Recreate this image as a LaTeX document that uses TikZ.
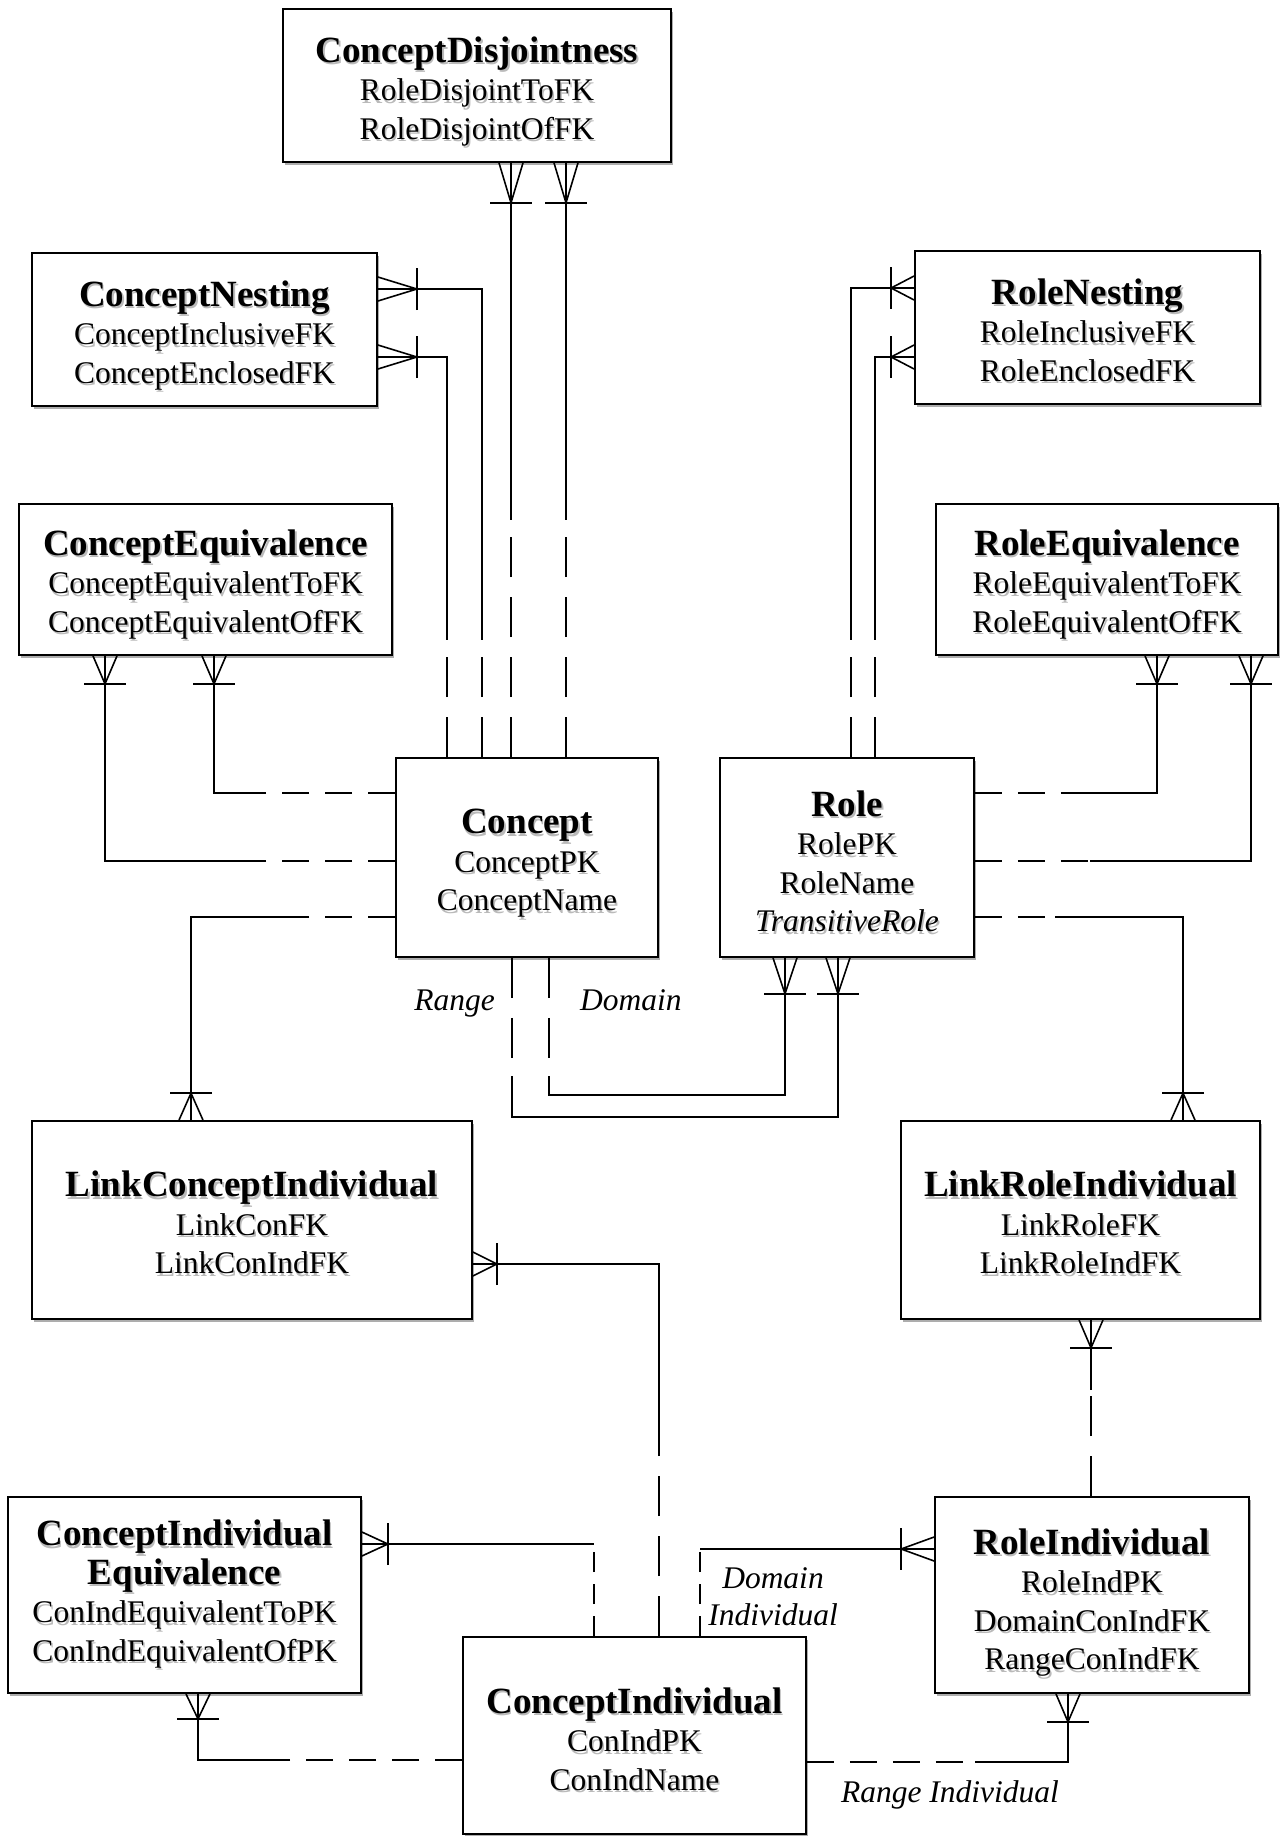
\documentclass[tikz,border=0pt]{standalone}
\usepackage{fontspec}
\setmainfont{Liberation Serif}
\usetikzlibrary{calc,shadows}
\newcommand\shl[1]{\leavevmode\rlap{\kern1.5pt\raisebox{-2.5pt}{\textcolor{black!27}{#1}}}#1}
\newcommand\ttl[1]{{\fontsize{37}{38.5}\selectfont\bfseries\shl{#1}}}
\newcommand\crowft[4]{%
  \draw[conn] ($(#1)+({-12*(#3)},{12*(#2)})$) -- ($(#1)+({#4*(#2)},{#4*(#3)})$) -- ($(#1)+({12*(#3)},{-12*(#2)})$);
  \draw[conn] ($(#1)+({#4*(#2)-21*(#3)},{#4*(#3)+21*(#2)})$) -- ($(#1)+({#4*(#2)+21*(#3)},{#4*(#3)-21*(#2)})$);
}
\begin{document}
\begin{tikzpicture}[x=1pt,y=-1pt,
  ent/.style={draw, line width=1.8pt, fill=white, inner sep=0pt,
    drop shadow={shadow xshift=1.5pt, shadow yshift=-3pt, fill=black!40, opacity=0.8}},
  txt/.style={align=center, inner sep=0pt, font=\fontsize{31.5}{38.5}\selectfont},
  conn/.style={line width=1.6pt},
  dashv/.style={dash pattern=on 40pt off 20pt},
  dashh/.style={dash pattern=on 27pt off 16pt},
  dashs/.style={dash pattern=on 20pt off 12pt},
  lbl/.style={font=\fontsize{31.5}{37}\selectfont\itshape, inner sep=0pt, align=center}]
\useasboundingbox[fill=white] (0,0) rectangle (1280,1836);

% entity boxes
\node[ent, minimum width=388pt, minimum height=153pt] (cdis) at (477,85.5) {};
\node[ent, minimum width=345pt, minimum height=153pt] (cnest) at (204.5,329.5) {};
\node[ent, minimum width=345pt, minimum height=153pt] (rnest) at (1087.5,327.5) {};
\node[ent, minimum width=373pt, minimum height=151pt] (ceq) at (205.5,579.5) {};
\node[ent, minimum width=342pt, minimum height=151pt] (req) at (1107,579.5) {};
\node[ent, minimum width=262pt, minimum height=199pt] (concept) at (527,857.5) {};
\node[ent, minimum width=254pt, minimum height=199pt] (role) at (847,857.5) {};
\node[ent, minimum width=440pt, minimum height=198pt] (lci) at (252,1220) {};
\node[ent, minimum width=359pt, minimum height=198pt] (lri) at (1080.5,1220) {};
\node[ent, minimum width=353pt, minimum height=196pt] (cie) at (184.5,1595) {};
\node[ent, minimum width=343pt, minimum height=197pt] (ci) at (634.5,1735.5) {};
\node[ent, minimum width=314pt, minimum height=196pt] (ri) at (1092,1595) {};

% entity texts
\node[txt] (cdis-t) at ($(cdis.center)+(0,7)$) {\ttl{ConceptDisjointness}\\\shl{RoleDisjointToFK}\\\shl{RoleDisjointOfFK}};
\node[txt] (cnest-t) at ($(cnest.center)+(0,7)$) {\ttl{ConceptNesting}\\\shl{ConceptInclusiveFK}\\\shl{ConceptEnclosedFK}};
\node[txt] (rnest-t) at ($(rnest.center)+(0,4)$) {\ttl{RoleNesting}\\\shl{RoleInclusiveFK}\\\shl{RoleEnclosedFK}};
\node[txt] (ceq-t) at ($(ceq.center)+(0,6)$) {\ttl{ConceptEquivalence}\\\shl{ConceptEquivalentToFK}\\\shl{ConceptEquivalentOfFK}};
\node[txt] (req-t) at ($(req.center)+(0,6)$) {\ttl{RoleEquivalence}\\\shl{RoleEquivalentToFK}\\\shl{RoleEquivalentOfFK}};
\node[txt] (concept-t) at ($(concept.center)+(0,7)$) {\ttl{Concept}\\\shl{ConceptPK}\\\shl{ConceptName}};
\node[txt] (role-t) at ($(role.center)+(0,5)$) {\ttl{Role}\\\shl{RolePK}\\\shl{RoleName}\\\shl{\itshape TransitiveRole}};
\node[txt] (lci-t) at ($(lci.center)+(0,4)$) {\ttl{LinkConceptIndividual}\\\shl{LinkConFK}\\\shl{LinkConIndFK}};
\node[txt] (lri-t) at ($(lri.center)+(0,4)$) {\ttl{LinkRoleIndividual}\\\shl{LinkRoleFK}\\\shl{LinkRoleIndFK}};
\node[txt] (cie-t) at ($(cie.center)+(0,0)$) {\ttl{ConceptIndividual}\\\ttl{Equivalence}\\\shl{ConIndEquivalentToPK}\\\shl{ConIndEquivalentOfPK}};
\node[txt] (ci-t) at ($(ci.center)+(0,5)$) {\ttl{ConceptIndividual}\\\shl{ConIndPK}\\\shl{ConIndName}};
\node[txt] (ri-t) at ($(ri.center)+(0,9)$) {\ttl{RoleIndividual}\\\shl{RoleIndPK}\\\shl{DomainConIndFK}\\\shl{RangeConIndFK}};

% guide / bend coordinates
\coordinate (b1) at (511,520);
\coordinate (b2) at (566,520);
\coordinate (k3) at (482,289);  \coordinate (b3) at (482,640);
\coordinate (k4) at (447,357);  \coordinate (b4) at (447,640);
\coordinate (k5) at (851,288);  \coordinate (b5) at (851,640);
\coordinate (k6) at (875,357);  \coordinate (b6) at (875,640);
\coordinate (k7) at (214,793);  \coordinate (b7) at (265,793);
\coordinate (k8) at (105,861);  \coordinate (b8) at (253,861);
\coordinate (k9) at (1157,793); \coordinate (b9) at (1080,793);
\coordinate (k10) at (1251,861); \coordinate (b10) at (1090,861);
\coordinate (k11) at (191,917); \coordinate (b11) at (295,917);
\coordinate (k12) at (1183,917); \coordinate (b12) at (1055,917);
\coordinate (k13a) at (785,1095); \coordinate (k13b) at (549,1095); \coordinate (b13) at (549,1076);
\coordinate (k14a) at (838,1117); \coordinate (k14b) at (512,1117); \coordinate (b14) at (512,1076);
\coordinate (k15) at (659,1264); \coordinate (b15) at (659,1440);
\coordinate (k16) at (594,1544);
\coordinate (k17) at (198,1760); \coordinate (b17) at (282,1760);
\coordinate (k18) at (700,1549);
\coordinate (k19) at (1068,1762); \coordinate (b19) at (975,1762);
\coordinate (b20) at (1091,1390);

% ConceptDisjointness -- Concept
\draw[conn] (cdis.south -| b1) -- (b1);
\draw[conn,dashv] (concept.north -| b1) -- (b1);
\crowft{cdis.south -| b1}{0}{1}{40}
\draw[conn] (cdis.south -| b2) -- (b2);
\draw[conn,dashv] (concept.north -| b2) -- (b2);
\crowft{cdis.south -| b2}{0}{1}{40}

% ConceptNesting -- Concept
\draw[conn] (cnest.east |- k3) -- (k3) -- (b3);
\draw[conn,dashv] (concept.north -| b3) -- (b3);
\crowft{cnest.east |- k3}{1}{0}{39}
\draw[conn] (cnest.east |- k4) -- (k4) -- (b4);
\draw[conn,dashv] (concept.north -| b4) -- (b4);
\crowft{cnest.east |- k4}{1}{0}{39}

% RoleNesting -- Role
\draw[conn] (rnest.west |- k5) -- (k5) -- (b5);
\draw[conn,dashv] (role.north -| b5) -- (b5);
\crowft{rnest.west |- k5}{-1}{0}{23}
\draw[conn] (rnest.west |- k6) -- (k6) -- (b6);
\draw[conn,dashv] (role.north -| b6) -- (b6);
\crowft{rnest.west |- k6}{-1}{0}{23}

% ConceptEquivalence -- Concept
\draw[conn] (ceq.south -| k7) -- (k7) -- (b7);
\draw[conn,dashh] (concept.west |- b7) -- (b7);
\crowft{ceq.south -| k7}{0}{1}{28}
\draw[conn] (ceq.south -| k8) -- (k8) -- (b8);
\draw[conn,dashh] (concept.west |- b8) -- (b8);
\crowft{ceq.south -| k8}{0}{1}{28}

% RoleEquivalence -- Role
\draw[conn] (req.south -| k9) -- (k9) -- (b9);
\draw[conn,dashh] (role.east |- b9) -- (b9);
\crowft{req.south -| k9}{0}{1}{28}
\draw[conn] (req.south -| k10) -- (k10) -- (b10);
\draw[conn,dashh] (role.east |- b10) -- (b10);
\crowft{req.south -| k10}{0}{1}{28}

% LinkConceptIndividual -- Concept
\draw[conn] (lci.north -| k11) -- (k11) -- (b11);
\draw[conn,dashh] (concept.west |- b11) -- (b11);
\crowft{lci.north -| k11}{0}{-1}{27}

% LinkRoleIndividual -- Role
\draw[conn] (lri.north -| k12) -- (k12) -- (b12);
\draw[conn,dashh] (role.east |- b12) -- (b12);
\crowft{lri.north -| k12}{0}{-1}{27}

% Role -- Concept (Domain, Range)
\draw[conn] (role.south -| k13a) -- (k13a) -- (k13b) -- (b13);
\draw[conn,dashv] (concept.south -| b13) -- (b13);
\crowft{role.south -| k13a}{0}{1}{36}
\draw[conn] (role.south -| k14a) -- (k14a) -- (k14b) -- (b14);
\draw[conn,dashv] (concept.south -| b14) -- (b14);
\crowft{role.south -| k14a}{0}{1}{36}
\node[lbl, anchor=base east] (lrange) at (495,1010) {Range};
\node[lbl, anchor=base west] (ldomain) at (580,1010) {Domain};

% LinkConceptIndividual -- ConceptIndividual
\draw[conn] (lci.east |- k15) -- (k15) -- (b15);
\draw[conn,dashv] (ci.north -| b15) -- (b15);
\crowft{lci.east |- k15}{1}{0}{24}

% ConceptIndividualEquivalence -- ConceptIndividual
\draw[conn] (cie.east |- k16) -- (k16);
\draw[conn,dashs] (ci.north -| k16) -- (k16);
\crowft{cie.east |- k16}{1}{0}{26}
\draw[conn] (cie.south -| k17) -- (k17) -- (b17);
\draw[conn,dashh] (ci.west |- b17) -- (b17);
\crowft{cie.south -| k17}{0}{1}{25}

% RoleIndividual -- ConceptIndividual
\draw[conn] (ri.west |- k18) -- (k18);
\draw[conn,dashs] (ci.north -| k18) -- (k18);
\crowft{ri.west |- k18}{-1}{0}{33}
\node[lbl] (ldomind) at (773,1597) {Domain\\Individual};
\draw[conn] (ri.south -| k19) -- (k19) -- (b19);
\draw[conn,dashh] (ci.east |- b19) -- (b19);
\crowft{ri.south -| k19}{0}{1}{28}
\node[lbl, anchor=base] (lrangeind) at (950,1802) {Range Individual};

% LinkRoleIndividual -- RoleIndividual
\draw[conn] (lri.south -| b20) -- (b20);
\draw[conn,dashv] (ri.north -| b20) -- (b20);
\crowft{lri.south -| b20}{0}{1}{28}
\end{tikzpicture}
\end{document}
